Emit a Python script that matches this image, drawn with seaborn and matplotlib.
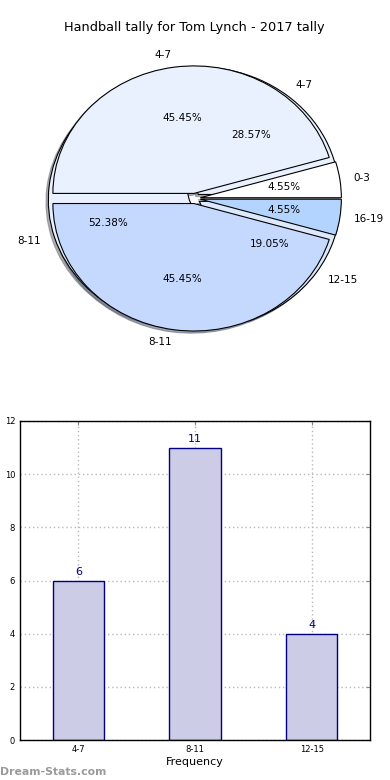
import matplotlib
matplotlib.use("Agg")
import matplotlib.pyplot as plt
import seaborn as sns
import pandas as pd

# ---- data ----
outer_labels = ["0-3", "4-7", "8-11", "16-19"]
outer_values = [1, 10, 10, 1]
outer_colors = ["#ffffff", "#eaf1fe", "#c5d8fd", "#b3d4ff"]

inner_labels = ["4-7", "8-11", "12-15"]
inner_values = [6, 11, 4]
inner_colors = ["#eaf1fe", "#eaf1fe", "#dce8fc"]

bar_categories = ["4-7", "8-11", "12-15"]
bar_values = [6, 11, 4]
y_ticks = [0, 2, 4, 6, 8, 10, 12]

title = "Handball tally for Tom Lynch - 2017 tally"

sns.set_style("white")
plt.rcParams["font.family"] = ["DejaVu Sans"]
plt.rcParams["text.color"] = "black"
plt.rcParams["axes.labelcolor"] = "black"
plt.rcParams["xtick.color"] = "black"
plt.rcParams["ytick.color"] = "black"

fig = plt.figure(figsize=(3.9, 7.8), dpi=100)

# ---- pie axes ----
axp = fig.add_axes([0.0473, 0.5412, 0.904, 0.4087])
wp = {"linewidth": 0.8, "edgecolor": "black"}
shadow = {"ox": -0.012, "oy": -0.012, "shade": 0.5, "alpha": 0.6}
axp.pie(inner_values, labels=inner_labels, colors=inner_colors,
        explode=[0.04] * len(inner_values), shadow=shadow,
        autopct="%1.2f%%", startangle=0, wedgeprops=wp,
        textprops={"fontsize": 7.5, "color": "black"})
axp.pie(outer_values, labels=outer_labels, colors=outer_colors,
        explode=[0.04] * len(outer_values), shadow=shadow,
        autopct="%1.2f%%", startangle=0, wedgeprops=wp,
        textprops={"fontsize": 7.5, "color": "black"})
axp.set_aspect("auto")
axp.set_xlim(-1.25, 1.25)
axp.set_ylim(-1.25, 1.25)
axp.set_title(title, fontsize=9.3, pad=6, color="black")

# ---- bar axes ----
axb = fig.add_axes([20 / 390, 40 / 780, 350 / 390, 319 / 780])
df = pd.DataFrame({"range": bar_categories, "count": bar_values})
sns.barplot(data=df, x="range", y="count", ax=axb, color="#ccccE6",
            saturation=1, width=0.44, edgecolor="navy", linewidth=1)
for i, v in enumerate(bar_values):
    axb.text(i, v + 0.12, str(v), ha="center", va="bottom",
             color="navy", fontsize=8)
axb.set_xlim(-0.5, 2.5)
axb.set_ylim(0, 12)
axb.set_yticks(y_ticks)
axb.grid(True, color="#b8b8b8", linestyle=(0, (1, 2)), linewidth=1)
for s in axb.spines.values():
    s.set_color("black")
    s.set_linewidth(1)
    s.set_zorder(5)
axb.tick_params(direction="in", top=True, right=True, labelsize=6,
                length=3, color="#888888")
axb.set_xlabel("Frequency", fontsize=8, labelpad=2)
axb.set_ylabel("Occurrences", fontsize=8)
axb.yaxis.set_label_coords(-0.049, 0.476)

fig.text(0.0, 0.004, "Dream-Stats.com", color="#9a9a9a", fontsize=7.8,
         fontweight="bold", ha="left", va="bottom")

fig.savefig("out.png", dpi=100)
